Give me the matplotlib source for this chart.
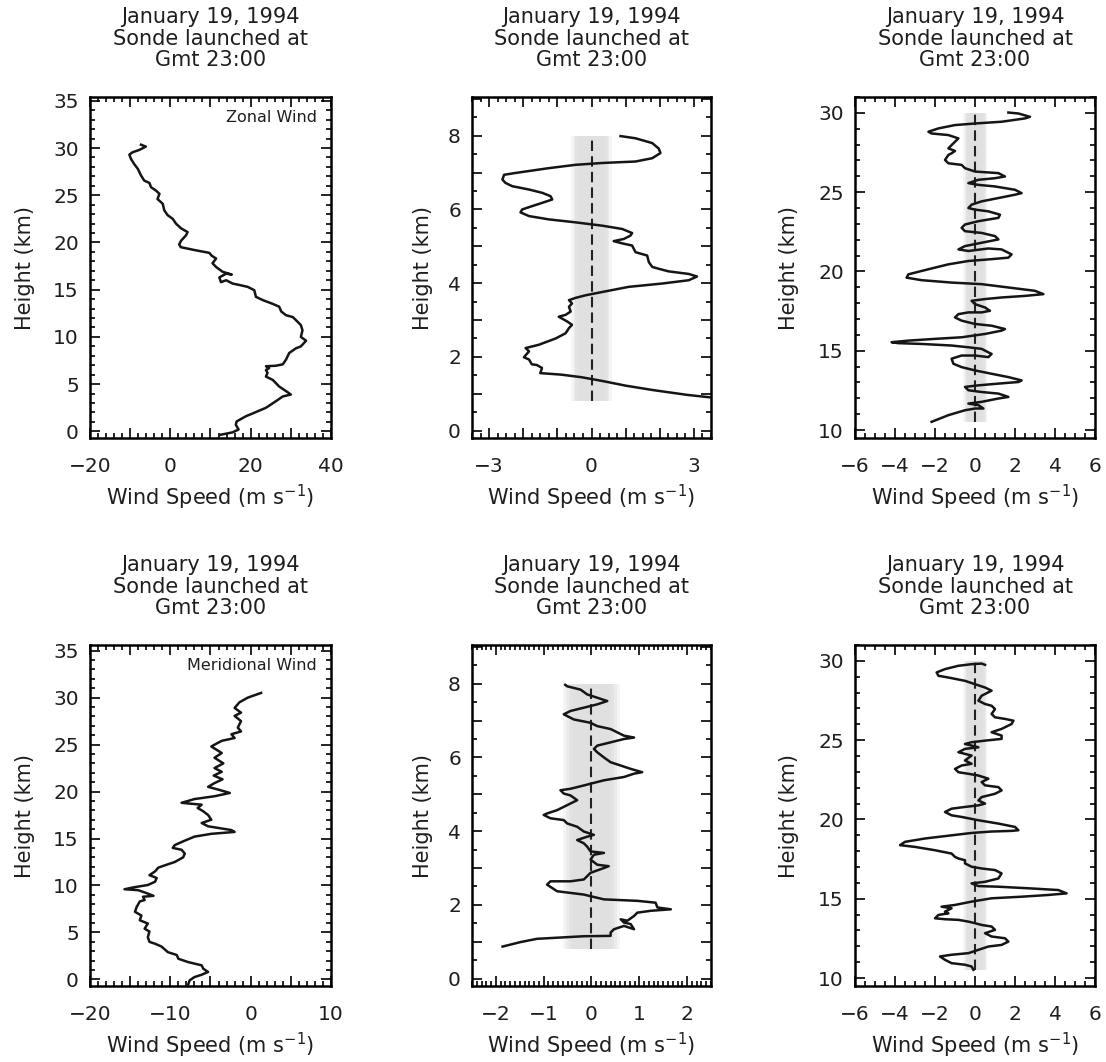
import matplotlib
matplotlib.use('Agg')
import matplotlib.pyplot as plt
import numpy as np

W, H = 1106, 1062
title_text = "January 19, 1994\nSonde launched at\nGmt 23:00"
xlabel_text = r"Wind Speed (m s$^{\mathregular{-1}}$)"
ylabel_text = "Height (km)"

# ---------------- data ----------------
zonal_u = [12.6, 15.5, 17.0, 16.3, 16.5, 18.8, 20.5, 23.8, 26.3, 28.0, 30.0, 29.2, 27.1, 26.3, 25.5, 23.8,
           24.2, 23.8, 24.6, 23.8, 26.3, 28.0, 28.8, 29.6, 31.3, 32.5, 33.8, 32.5, 32.9, 32.5, 31.7, 30.5,
           28.8, 27.6, 27.1, 25.5, 23.0, 21.3, 20.9, 19.25, 17.2, 15.5, 13.9, 12.6, 12.2, 13.9, 15.3, 13.0,
           11.4, 10.5, 11.4, 10.3, 9.7, 6.0, 2.6, 2.2, 2.7, 3.9, 4.3, 2.65, 1.4, 0.6, -0.7, -1.5, -1.9,
           -3.2, -2.7, -3.6, -4.8, -5.2, -6.5, -7.3, -8.1, -9.0, -9.8, -10.2, -9.4, -7.7, -6.1, -7.3]
zonal_z = [-0.35, -0.1, 0.2, 0.7, 1.05, 1.6, 1.9, 2.5, 3.2, 3.7, 3.9, 4.15, 4.75, 5.1, 5.45, 5.8,
           6.2, 6.5, 6.7, 6.9, 6.95, 7.1, 7.6, 8.3, 8.8, 9.0, 9.6, 10.0, 10.7, 11.25, 11.6, 12.1,
           12.3, 12.7, 13.2, 13.5, 13.9, 14.25, 14.95, 15.3, 15.5, 15.65, 16.0, 15.8, 16.3, 16.7, 16.6, 16.9,
           17.4, 17.8, 18.3, 18.6, 18.9, 19.2, 19.5, 19.8, 20.2, 20.75, 21.1, 21.5, 22.0, 22.5, 22.9, 23.4, 24.1,
           24.6, 25.15, 25.5, 25.85, 26.3, 26.55, 27.1, 27.8, 28.3, 28.85, 29.3, 29.55, 29.8, 30.15, 30.35]

merid_v = [-7.8, -7.6, -7.0, -6.1, -5.3, -5.9, -6.1, -7.8, -9.0, -9.2, -10.3, -11.1, -11.9, -12.6, -12.8,
           -12.6, -13.2, -12.8, -13.8, -13.6, -14.4, -14.2, -13.8, -13.2, -13.4, -12.1, -13.0, -14.0, -15.7,
           -14.6, -12.8, -11.9, -11.7, -12.6, -11.9, -11.5, -10.5, -9.45, -8.4, -8.2, -8.6, -9.7, -9.45, -8.4,
           -7.0, -4.9, -2.0, -2.4, -5.3, -6.1, -4.9, -5.3, -5.9, -6.6, -6.1, -8.6, -7.0, -4.5, -2.6, -4.0,
           -5.3, -4.5, -3.5, -4.6, -3.6, -4.5, -3.4, -4.5, -3.6, -4.9, -3.6, -2.0, -2.4, -1.2, -1.6, -1.2,
           -2.0, -1.2, -2.0, -1.4, -0.35, 1.3]
merid_z = [-0.6, -0.1, 0.25, 0.5, 0.8, 1.14, 1.5, 1.85, 2.2, 2.6, 2.9, 3.5, 3.8, 4.0, 4.5,
           5.1, 5.4, 5.95, 6.3, 6.8, 7.2, 7.7, 8.3, 8.45, 8.8, 8.9, 9.2, 9.5, 9.6,
           9.8, 10.05, 10.4, 10.8, 11.1, 11.5, 11.9, 12.2, 12.5, 13.0, 13.4, 13.8, 14.0, 14.3, 14.7,
           15.2, 15.5, 15.7, 15.9, 16.3, 16.65, 17.0, 17.5, 17.9, 18.25, 18.6, 18.8, 19.2, 19.5, 19.85, 20.2,
           20.5, 20.9, 21.3, 21.7, 22.1, 22.5, 23.0, 23.6, 24.1, 24.8, 25.4, 25.7, 26.1, 26.4, 26.8, 27.5,
           28.05, 28.4, 28.9, 29.5, 30.0, 30.5]

# zonal perturbation, lower layer
zl_u = [4.5, 2.8, 1.8, 1.0, 0.3, -0.3, -0.9, -1.5, -1.45, -1.6, -1.75, -1.83, -1.98, -1.83, -1.93, -1.54,
        -1.05, -0.76, -0.66, -0.57, -0.71, -0.96, -0.76, -0.61, -0.66, -0.57, -0.66, -0.47, -0.18, 0.31,
        1.09, 2.07, 2.85, 3.09, 2.85, 2.26, 1.97, 1.78, 1.68, 1.63, 1.29, 1.19, 0.9, 0.65, 0.95, 1.14,
        1.19, 0.9, 0.31, -0.47, -1.25, -1.83, -2.08, -2.03, -1.74, -1.44, -1.15, -1.2, -1.44, -1.83, -2.32,
        -2.52, -2.61, -2.56, -2.22, -1.25, -0.47, 0.31, 1.29, 1.78, 2.02, 1.97, 1.78, 1.29, 0.85]
zl_z = [0.8, 0.97, 1.1, 1.22, 1.35, 1.45, 1.52, 1.56, 1.7, 1.78, 1.8, 1.93, 1.99, 2.15, 2.24, 2.33,
        2.5, 2.64, 2.78, 2.87, 2.96, 3.09, 3.14, 3.23, 3.36, 3.45, 3.54, 3.6, 3.67, 3.76,
        3.9, 3.99, 4.08, 4.18, 4.25, 4.32, 4.39, 4.44, 4.57, 4.75, 4.84, 5.02, 5.08, 5.14, 5.2, 5.29,
        5.36, 5.47, 5.56, 5.65, 5.73, 5.82, 5.92, 6.0, 6.09, 6.18, 6.27, 6.36, 6.45, 6.54, 6.63,
        6.72, 6.81, 6.94, 6.99, 7.12, 7.21, 7.26, 7.3, 7.39, 7.53, 7.65, 7.8, 7.93, 7.99]

# meridional perturbation, lower layer
ml_v = [-1.86, -1.49, -1.14, -0.58, -0.16, 0.4, 0.4, 0.47, 0.68, 0.89, 0.82, 0.68, 0.61, 0.75, 0.89, 0.96,
        1.24, 1.66, 1.38, 1.34, 0.96, 0.26, -0.16, -0.72, -0.93, -0.86, -0.44, -0.16, -0.02, 0.26, 0.36,
        0.12, -0.02, 0.05, 0.26, -0.02, -0.09, -0.16, -0.3, -0.09, 0.05, -0.16, -0.3, -0.51, -0.58, -0.86,
        -1.0, -0.93, -0.72, -0.58, -0.44, -0.3, -0.44, -0.58, -0.65, -0.44, -0.16, 0.26, 0.68, 0.89, 1.06,
        0.82, 0.61, 0.4, 0.26, 0.12, 0.05, 0.12, 0.4, 0.68, 0.89, 0.68, 0.54, 0.4, 0.12, -0.02, -0.37,
        -0.58, -0.44, -0.16, 0.12, 0.33, 0.12, -0.09, -0.23, -0.51, -0.55]
ml_z = [0.87, 0.99, 1.08, 1.12, 1.15, 1.16, 1.25, 1.34, 1.43, 1.34, 1.48, 1.52, 1.61, 1.57, 1.7, 1.79,
        1.84, 1.88, 1.93, 2.06, 2.11, 2.15, 2.28, 2.37, 2.55, 2.64, 2.64, 2.69, 2.87, 3.0, 3.05,
        3.09, 3.23, 3.36, 3.41, 3.45, 3.58, 3.67, 3.76, 3.85, 3.9, 3.99, 4.12, 4.21, 4.3, 4.35,
        4.44, 4.48, 4.57, 4.66, 4.75, 4.84, 4.97, 5.02, 5.11, 5.15, 5.24, 5.38, 5.47, 5.56, 5.6,
        5.69, 5.78, 5.87, 6.0, 6.14, 6.23, 6.32, 6.41, 6.5, 6.54, 6.59, 6.68, 6.77, 6.85, 6.94, 7.03,
        7.17, 7.26, 7.35, 7.44, 7.53, 7.62, 7.71, 7.84, 7.93, 7.97]

# zonal perturbation, upper layer
zu_u = [-2.17, -1.33, -0.5, 0.0, 0.42, 0.17, -0.33, 0.33, 1.17, 1.67, 1.17, 0.33, -0.33, -0.5, 0.17, 1.17,
        2.17, 2.33, 1.67, 0.83, 0.0, -0.67, -1.08, -1.17, -0.67, 0.0, 0.67, 0.83, 0.67, 0.33, -0.33, -1.17,
        -2.67, -3.83, -4.17, -3.33, -2.0, -0.67, 0.5, 1.33, 1.5, 0.83, 0.0, -0.67, -1.0, -0.83, -0.33, 0.33,
        0.75, 0.5, 0.0, -0.17, 0.5, 1.33, 2.5, 3.42, 3.0, 1.67, 0.33, -1.17, -2.67, -3.42, -3.33, -2.33,
        -1.33, -0.33, 0.67, 1.67, 1.83, 1.33, 0.67, -0.33, -0.83, -0.5, 0.33, 1.17, 1.0, 0.33, -0.5, -0.67,
        -0.5, 0.17, 1.17, 1.25, 0.67, 0.0, -0.33, -0.17, 0.33, 1.17, 2.0, 2.33, 2.0, 1.0, 0.17, -0.33,
        0.17, 1.0, 1.5, 1.17, 0.0, -0.5, -0.67, -1.33, -1.5, -1.33, -1.17, -1.0, -1.33, -1.17, -1.0, -0.83,
        -1.33, -2.17, -2.33, -1.83, -1.0, 0.0, 1.33, 2.5, 2.75, 2.17, 1.67]
zu_z = [10.52, 10.94, 11.25, 11.36, 11.36, 11.57, 11.67, 11.78, 11.99, 12.09, 12.3, 12.4, 12.51, 12.72, 12.82, 12.93,
        13.03, 13.13, 13.34, 13.55, 13.76, 13.97, 14.18, 14.5, 14.7, 14.7, 14.6, 14.8, 14.9, 15.12, 15.22, 15.33,
        15.43, 15.48, 15.54, 15.64, 15.75, 15.85, 16.06, 16.27, 16.37, 16.58, 16.69, 16.9, 17.1, 17.31, 17.42, 17.42,
        17.52, 17.73, 17.94, 18.15, 18.26, 18.36, 18.46, 18.57, 18.78, 18.99, 19.2, 19.3, 19.45, 19.61, 19.82, 20.14,
        20.45, 20.66, 20.76, 20.87, 21.08, 21.39, 21.45, 21.29, 21.39, 21.6, 21.81, 22.02, 22.23, 22.43, 22.54, 22.75,
        22.96, 23.17, 23.38, 23.58, 23.79, 23.9, 24.0, 24.21, 24.42, 24.63, 24.84, 24.94, 25.15, 25.36, 25.46, 25.57,
        25.78, 25.88, 25.99, 26.2, 26.3, 26.51, 26.72, 26.82, 27.03, 27.35, 27.45, 27.6, 27.76, 27.97, 28.18, 28.39,
        28.6, 28.7, 28.81, 29.02, 29.23, 29.33, 29.44, 29.65, 29.75, 29.96, 30.02]

# meridional perturbation, upper layer
mu_v = [-0.08, -0.17, -0.5, -1.17, -1.5, -1.75, -1.17, -0.33, 0.17, 0.67, 1.33, 1.67, 1.5, 0.83, 0.5, 1.0,
        0.83, 0.33, 0.0, -0.33, -0.83, -1.5, -2.0, -1.83, -1.33, -1.5, -1.17, -1.67, -1.0, -0.17, 0.83, 2.33,
        3.67, 4.58, 4.17, 2.83, 1.17, 0.17, -0.17, 0.5, 1.17, 1.33, 1.0, 0.33, -0.17, -0.5, -0.5, -0.83,
        -1.0, -1.17, -2.0, -3.0, -3.75, -3.5, -2.5, -1.17, -0.17, 0.83, 1.83, 2.17, 2.0, 1.17, 0.17, -0.67,
        -1.17, -1.5, -1.17, -0.5, 0.17, 0.5, 0.17, 0.33, 1.0, 1.33, 1.17, 0.5, 0.33, 0.67, 0.17, -0.33,
        -0.83, -1.0, -0.67, -0.17, -0.5, -0.17, -0.83, -0.5, 0.17, -0.17, -0.5, -0.17, 0.5, 1.33, 1.33, 0.83,
        1.33, 1.83, 1.92, 1.5, 1.0, 0.83, 1.0, 0.83, 0.5, 0.17, 0.33, 0.83, 0.5, 0.0, -0.5, -1.33,
        -1.83, -1.92, -1.5, -0.83, -0.17, 0.33, 0.5]
mu_z = [10.52, 10.73, 10.84, 10.94, 11.15, 11.36, 11.47, 11.57, 11.78, 11.99, 12.09, 12.3, 12.51, 12.62, 12.83, 13.04,
        13.25, 13.35, 13.46, 13.56, 13.67, 13.71, 13.77, 13.98, 14.08, 14.19, 14.4, 14.5, 14.61, 14.82, 15.03, 15.13,
        15.24, 15.34, 15.55, 15.65, 15.76, 15.8, 15.97, 16.07, 16.28, 16.6, 16.81, 16.91, 17.02, 17.23, 17.43, 17.54,
        17.64, 17.85, 18.06, 18.27, 18.38, 18.59, 18.8, 19.0, 19.15, 19.24, 19.28, 19.32, 19.53, 19.74, 19.95, 20.16,
        20.26, 20.47, 20.68, 20.79, 20.89, 21.0, 21.2, 21.41, 21.62, 21.83, 22.04, 22.15, 22.36, 22.57, 22.77, 22.88,
        22.98, 23.19, 23.4, 23.51, 23.72, 24.03, 24.24, 24.45, 24.55, 24.66, 24.76, 24.87, 24.97, 25.08, 25.29, 25.5,
        25.71, 26.02, 26.23, 26.34, 26.44, 26.65, 26.96, 27.17, 27.28, 27.49, 27.8, 28.12, 28.32, 28.53, 28.74, 28.95,
        29.06, 29.27, 29.48, 29.69, 29.79, 29.83, 29.75]

band_half = 0.5
low_band = (0.8, 8.0)
high_band = (10.5, 30.0)

# ---------------- figure ----------------
plt.rcParams['font.family'] = ['DejaVu Sans']
plt.rcParams['mathtext.fontset'] = 'dejavusans'
TXT = '#1e1e1e'
FS = 15
fig = plt.figure(figsize=(W / 100, H / 100), dpi=100)
fig.patch.set_facecolor('white')


def make_axes(l, t, w, h):
    return fig.add_axes([l / W, 1 - (t + h) / H, w / W, h / H])


cols = [(90, 241), (472, 239), (855, 240)]
rows = [97, 645]
AH = 341
ylab_x = [-0.27, -0.205, -0.275]


def style(ax, col, xlim, ylim, xmaj, xlab, xmin, ymaj, ylab, ymin):
    ax.set_xlim(*xlim)
    ax.set_ylim(*ylim)
    ax.set_xticks(xmaj)
    ax.set_xticklabels([('%g' % v).replace('-', '\u2212') if v in xlab else '' for v in xmaj])
    ax.set_xticks(xmin, minor=True)
    ax.set_yticks(ymaj)
    ax.set_yticklabels([('%g' % v) if v in ylab else '' for v in ymaj])
    ax.set_yticks(ymin, minor=True)
    ax.tick_params(which='both', direction='in', top=True, right=True, width=1.2,
                   labelsize=14.5, labelcolor=TXT)
    ax.tick_params(which='major', length=7)
    ax.tick_params(which='minor', length=3.5)
    ax.tick_params(axis='x', pad=14)
    ax.tick_params(axis='y', pad=8)
    for s in ax.spines.values():
        s.set_linewidth(1.8)
    ax.set_xlabel(xlabel_text, fontsize=FS, color=TXT)
    ax.xaxis.set_label_coords(0.5, -59 / AH)
    ax.xaxis.label.set_va('center')
    ax.set_ylabel(ylabel_text, fontsize=FS, color=TXT)
    ax.yaxis.set_label_coords(ylab_x[col], 0.5)
    ax.yaxis.label.set_va('center')
    ax.set_title(title_text, fontsize=FS, color=TXT, linespacing=1.12, pad=22)


def band(ax, yr):
    for k, a in zip([1.2, 1.05, 0.95, 0.8], [0.2, 0.25, 0.25, 0.15]):
        ax.fill_betweenx(yr, -band_half * k, band_half * k,
                         color='#cfcfcf', alpha=a, lw=0, zorder=1)
    ax.plot([0, 0], yr, color='#222222', lw=1.5, ls=(0, (5, 2.5)), zorder=2)


LW = 1.8
LC = '#151515'

for r, (uvals, zvals, name) in enumerate([(zonal_u, zonal_z, 'Zonal Wind'),
                                           (merid_v, merid_z, 'Meridional Wind')]):
    ax = make_axes(cols[0][0], rows[r], cols[0][1], AH)
    ax.plot(uvals, zvals, color=LC, lw=LW, zorder=3)
    if r == 0:
        style(ax, 0, (-20, 40), (-0.7, 35.4), list(range(-20, 41, 10)), [-20, 0, 20, 40],
              list(range(-20, 41, 2)), list(range(0, 36, 5)), list(range(0, 36, 5)), list(range(0, 36, 1)))
    else:
        style(ax, 0, (-20, 10), (-0.7, 35.6), list(range(-20, 11, 5)), [-20, -10, 0, 10],
              list(range(-20, 11, 1)), list(range(0, 36, 5)), list(range(0, 36, 5)), list(range(0, 36, 1)))
    ax.text(0.94, 0.94, name, transform=ax.transAxes, ha='right', va='center', fontsize=11.5, color=TXT)

# middle column
for r, (uvals, zvals) in enumerate([(zl_u, zl_z), (ml_v, ml_z)]):
    ax = make_axes(cols[1][0], rows[r], cols[1][1], AH)
    band(ax, low_band)
    ax.plot(uvals, zvals, color=LC, lw=LW, zorder=3)
    if r == 0:
        style(ax, 1, (-3.5, 3.5), (-0.2, 9.05), list(range(-3, 4)), [-3, 0, 3],
              list(np.arange(-3.5, 3.51, 0.25)), list(range(0, 10, 1)), [0, 2, 4, 6, 8],
              list(np.arange(0, 9.01, 0.5)))
    else:
        style(ax, 1, (-2.5, 2.5), (-0.2, 9.05), list(range(-2, 3)), [-2, -1, 0, 1, 2],
              list(np.arange(-2.5, 2.51, 0.1)), list(range(0, 10, 1)), [0, 2, 4, 6, 8],
              list(np.arange(0, 9.01, 0.5)))

# right column
for r, (uvals, zvals) in enumerate([(zu_u, zu_z), (mu_v, mu_z)]):
    ax = make_axes(cols[2][0], rows[r], cols[2][1], AH)
    band(ax, high_band)
    ax.plot(uvals, zvals, color=LC, lw=LW, zorder=3)
    style(ax, 2, (-6, 6), (9.5, 31.0), list(range(-6, 7, 2)), [-6, -4, -2, 0, 2, 4, 6],
          list(np.arange(-6, 6.01, 0.5)), list(range(10, 31, 5)), [10, 15, 20, 25, 30],
          list(range(10, 32, 1)))

fig.savefig('out.png', dpi=100, facecolor='white')
